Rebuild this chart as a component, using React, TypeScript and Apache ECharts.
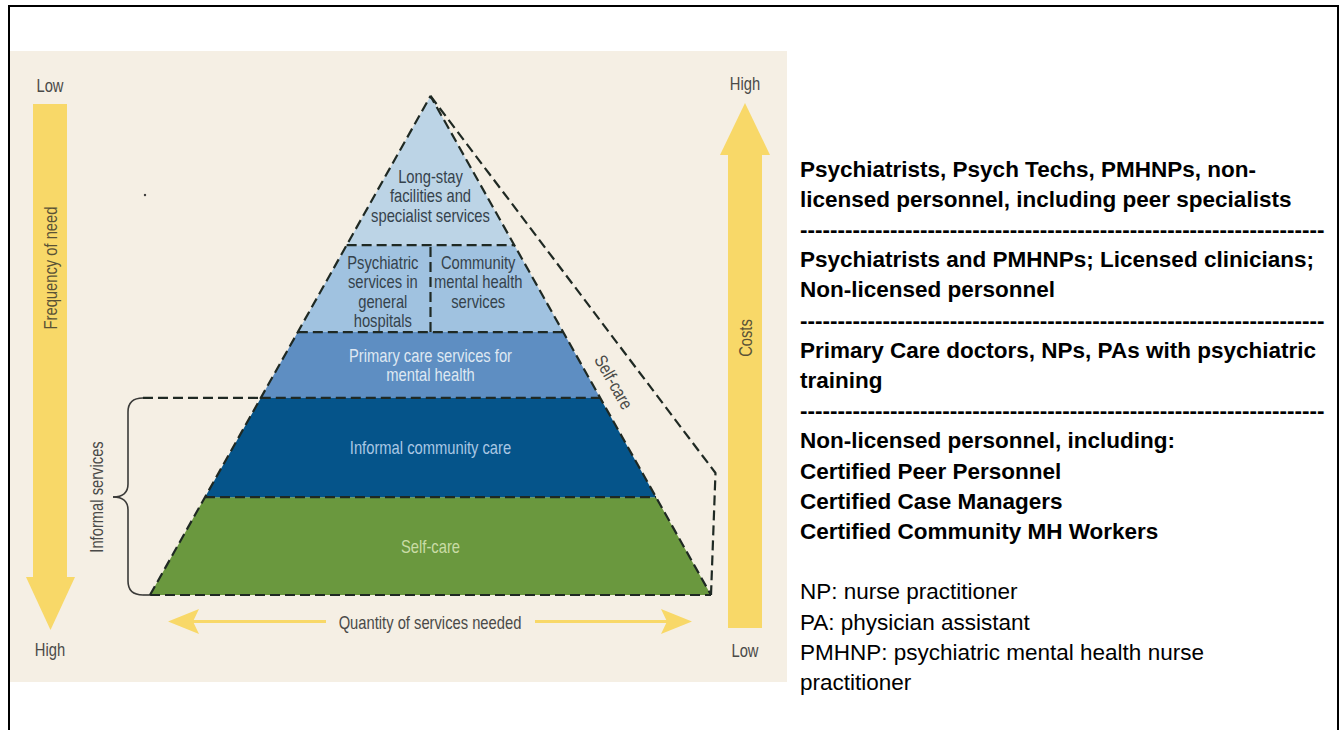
import React, { useEffect, useRef } from "react";
import * as echarts from "echarts";

// ---- Pyramid tiers (levels 0 = base, 100 = apex) ----
const tierNames: string[][] = [
  ["Self-care"],
  ["Informal community care"],
  ["Primary care services for\nmental health"],
  ["Psychiatric\nservices in\ngeneral\nhospitals", "Community\nmental health\nservices"],
  ["Long-stay\nfacilities and\nspecialist services"],
];
const tierBottoms = [0, 19.6, 39.5, 52.7, 70.1];
const tierTops = [19.6, 39.5, 52.7, 70.1, 100];
const tierColors = ["#6a983e", "#05548a", "#5e8ec2", "#a0c2e0", "#bcd4e6"];
const tierTextColors = ["#c9dca6", "#a9c7e4", "#dfe8f2", "#35424c", "#35424c"];

// ---- Outline paths in pyramid coordinates ----
const pyramidEdge = [[-50, 0], [0, 100], [50, 0]];
const selfCareOutline = [[0, 100], [50.8, 24.45], [50, 0]];
const informalExtension = [[-51.25, 39.5], [-30.25, 39.5]];

// ---- Side labels ----
const frequencyEnds = ["Low", "High"];
const costEnds = ["High", "Low"];
const frequencyTitle = "Frequency of need";
const costTitle = "Costs";
const quantityTitle = "Quantity of services needed";
const informalTitle = "Informal services";
const selfCareTitle = "Self-care";

// ---- Right-hand text ----
const roleGroups: string[][] = [
  ["Psychiatrists, Psych Techs, PMHNPs, non-", "licensed personnel, including peer specialists"],
  ["Psychiatrists and PMHNPs; Licensed clinicians;", "Non-licensed personnel"],
  ["Primary Care doctors, NPs, PAs with psychiatric", "training"],
  [
    "Non-licensed personnel, including:",
    "Certified Peer Personnel",
    "Certified Case Managers",
    "Certified Community MH Workers",
  ],
];
const abbreviations = [
  "NP: nurse practitioner",
  "PA: physician assistant",
  "PMHNP: psychiatric mental health nurse",
  "practitioner",
];

const DIAG_FONT = "'Liberation Sans', Arial, sans-serif";
const NARROW = 0.82;
const DOC_FONT = "Arial, 'Liberation Sans', Helvetica, sans-serif";
const YELLOW = "#f8d868";
const DASH_COLOR = "#1f2923";
const DASH = { stroke: DASH_COLOR, lineWidth: 2.2, lineDash: [10, 5] };
const LABEL_GRAY = "#4a4a48";

// pyramid grid mapping: x -52..52, y 0..100
const X_MIN = -52;
const X_MAX = 52;
const PX_PER_X = 5.61;
const CENTER_X = 430.5;

export default function App() {
  const ref = useRef<HTMLDivElement>(null);

  useEffect(() => {
    if (!ref.current) return;
    const chart = echarts.init(ref.current, undefined, { renderer: "svg" });

    const dashedLine = (data: number[][], z = 4) => ({
      type: "line",
      data,
      symbol: "none",
      clip: false,
      silent: true,
      z,
      lineStyle: { color: DASH_COLOR, width: 2.2, type: [10, 5] },
    });

    // right-side document text
    const docLines: { text: string; bold: boolean }[] = [];
    roleGroups.forEach((g, gi) => {
      g.forEach((t) => docLines.push({ text: t, bold: true }));
      if (gi < roleGroups.length - 1) docLines.push({ text: "-".repeat(70), bold: true });
    });
    docLines.push({ text: "", bold: false });
    abbreviations.forEach((t) => docLines.push({ text: t, bold: false }));

    const docText = docLines.map((l, i) => ({
      type: "text",
      x: 800,
      y: 169 + i * 30.2,
      z: 5,
      style: {
        text: l.text,
        fill: "#000",
        fontFamily: DOC_FONT,
        fontSize: 22.5,
        fontWeight: l.bold ? "bold" : "normal",
        align: "left",
        verticalAlign: "middle",
      },
    }));

    const diagText = (text: string, x: number, y: number, rotation = 0, fill = LABEL_GRAY) => ({
      type: "text",
      x,
      y,
      rotation,
      scaleX: NARROW,
      z: 6,
      style: {
        text,
        fill,
        fontFamily: DIAG_FONT,
        fontSize: 18,
        align: "center",
        verticalAlign: "middle",
      },
    });

    const braceStyle = { stroke: "#3a3a38", lineWidth: 1.6, fill: "none" };
    const edgeAngle = Math.atan2(499, 280.5);

    chart.setOption({
      animation: false,
      grid: {
        left: CENTER_X + X_MIN * PX_PER_X,
        top: 96,
        width: (X_MAX - X_MIN) * PX_PER_X,
        height: 499,
        show: false,
      },
      xAxis: { type: "value", min: X_MIN, max: X_MAX, show: false },
      yAxis: { type: "value", min: 0, max: 100, show: false },
      graphic: [
        // page frame
        { type: "line", z: 1, shape: { x1: 8, y1: 6, x2: 1339, y2: 6 }, style: { stroke: "#000", lineWidth: 2 } },
        { type: "line", z: 1, shape: { x1: 9, y1: 5, x2: 9, y2: 730 }, style: { stroke: "#000", lineWidth: 2 } },
        { type: "line", z: 1, shape: { x1: 1338, y1: 5, x2: 1338, y2: 730 }, style: { stroke: "#000", lineWidth: 2 } },
        // beige picture background
        { type: "rect", z: -10, shape: { x: 10, y: 51, width: 777, height: 631 }, style: { fill: "#f5efe4" } },
        // left yellow arrow (frequency)
        { type: "rect", z: 1, shape: { x: 33, y: 104, width: 34, height: 474 }, style: { fill: YELLOW } },
        { type: "polygon", z: 1, shape: { points: [[26, 577], [75, 577], [50.5, 630]] }, style: { fill: YELLOW } },
        // right yellow arrow (costs)
        { type: "polygon", z: 1, shape: { points: [[720, 155], [770, 155], [745, 103]] }, style: { fill: YELLOW } },
        { type: "rect", z: 1, shape: { x: 728, y: 154, width: 34, height: 474 }, style: { fill: YELLOW } },
        // bottom arrows (quantity)
        { type: "line", z: 1, shape: { x1: 190, y1: 621.5, x2: 326, y2: 621.5 }, style: { stroke: YELLOW, lineWidth: 3 } },
        { type: "polygon", z: 1, shape: { points: [[168, 621.5], [199, 609], [193, 621.5], [199, 634]] }, style: { fill: YELLOW } },
        { type: "line", z: 1, shape: { x1: 535, y1: 621.5, x2: 670, y2: 621.5 }, style: { stroke: YELLOW, lineWidth: 3 } },
        { type: "polygon", z: 1, shape: { points: [[692, 621.5], [661, 609], [667, 621.5], [661, 634]] }, style: { fill: YELLOW } },
        // brace for informal services
        { type: "bezierCurve", z: 3, shape: { x1: 143, y1: 398, cpx1: 128, cpy1: 398, x2: 128, y2: 412 }, style: braceStyle },
        { type: "line", z: 3, shape: { x1: 128, y1: 412, x2: 128, y2: 484 }, style: braceStyle },
        { type: "bezierCurve", z: 3, shape: { x1: 128, y1: 484, cpx1: 128, cpy1: 497, x2: 113, y2: 497 }, style: braceStyle },
        { type: "bezierCurve", z: 3, shape: { x1: 113, y1: 497, cpx1: 128, cpy1: 497, x2: 128, y2: 510 }, style: braceStyle },
        { type: "line", z: 3, shape: { x1: 128, y1: 510, x2: 128, y2: 581 }, style: braceStyle },
        { type: "bezierCurve", z: 3, shape: { x1: 128, y1: 581, cpx1: 128, cpy1: 595, x2: 143, y2: 595 }, style: braceStyle },
        { type: "line", z: 3, shape: { x1: 143, y1: 595, x2: 151, y2: 595 }, style: braceStyle },
        // stray dot in the source picture
        { type: "circle", z: 3, shape: { cx: 145, cy: 195, r: 1.2 }, style: { fill: "#333" } },
        // side labels
        diagText(frequencyEnds[0], 50, 85),
        diagText(frequencyEnds[1], 50, 649),
        diagText(costEnds[0], 745, 83),
        diagText(costEnds[1], 745, 650),
        diagText(frequencyTitle, 50, 268, Math.PI / 2, "#5a5236"),
        diagText(costTitle, 745, 338, Math.PI / 2, "#5a5236"),
        diagText(quantityTitle, 430, 622),
        diagText(informalTitle, 96, 497, Math.PI / 2),
        diagText(selfCareTitle, 614, 382, -edgeAngle),
        ...docText,
      ],
      series: [
        {
          type: "custom",
          coordinateSystem: "cartesian2d",
          z: 2,
          silent: true,
          data: tierBottoms.map((b, i) => [b, tierTops[i], i]),
          renderItem: (_params: any, api: any) => {
            const b = api.value(0) as number;
            const t = api.value(1) as number;
            const idx = api.value(2) as number;
            const hw = (l: number) => 50 * (1 - l / 100);
            const bl = api.coord([-hw(b), b]);
            const br = api.coord([hw(b), b]);
            const tl = api.coord([-hw(t), t]);
            const tr = api.coord([hw(t), t]);
            const children: any[] = [];
            const pts = t >= 100 ? [bl, br, tl] : [bl, br, tr, tl];
            children.push({ type: "polygon", shape: { points: pts }, style: { fill: tierColors[idx] } });
            children.push({ type: "line", shape: { x1: bl[0], y1: bl[1], x2: br[0], y2: br[1] }, style: DASH });
            const labels = tierNames[idx];
            const textStyle = (text: string) => ({
              text,
              fill: tierTextColors[idx],
              fontFamily: DIAG_FONT,
              fontSize: 18,
              lineHeight: 19.5,
              align: "center",
            });
            if (labels.length === 2) {
              const d1 = api.coord([0, b]);
              const d2 = api.coord([0, t]);
              children.push({ type: "line", shape: { x1: d1[0], y1: d1[1], x2: d2[0], y2: d2[1] }, style: DASH });
              const offs = [-8.5, 8.5];
              labels.forEach((txt, j) => {
                const p = api.coord([offs[j], t]);
                children.push({
                  type: "text",
                  x: p[0],
                  y: p[1] + 7,
                  scaleX: NARROW,
                  style: { ...textStyle(txt), verticalAlign: "top" },
                });
              });
            } else {
              const level = t >= 100 ? b + (t - b) / 3 : (b + t) / 2;
              const p = api.coord([0, level]);
              children.push({
                type: "text",
                x: p[0],
                y: p[1],
                scaleX: NARROW,
                style: { ...textStyle(labels[0]), verticalAlign: "middle" },
              });
            }
            return { type: "group", children };
          },
        },
        dashedLine(pyramidEdge),
        dashedLine(selfCareOutline),
        dashedLine(informalExtension),
      ],
    });

    return () => chart.dispose();
  }, []);

  return (
    <div
      ref={ref}
      style={{ position: "absolute", left: 0, top: 0, width: 1343, height: 730, background: "#fff" }}
    />
  );
}
